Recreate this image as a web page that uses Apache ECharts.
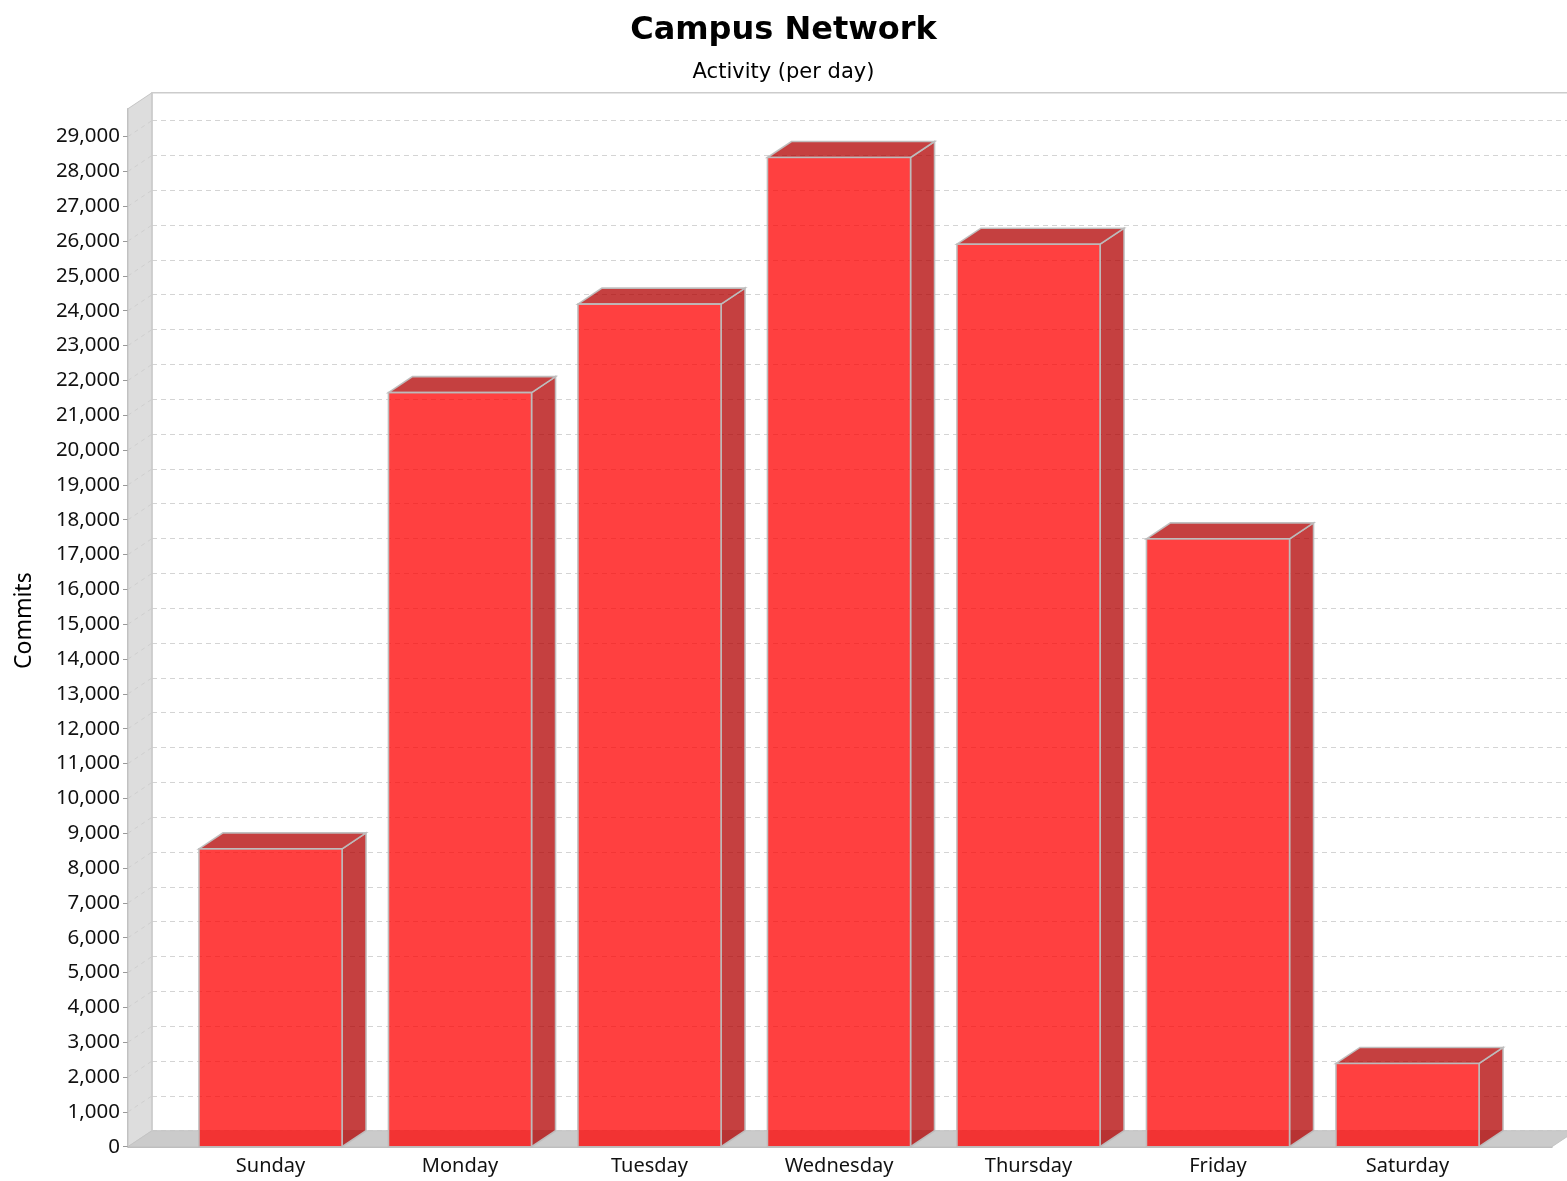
<!DOCTYPE html>
<html>
<head>
<meta charset="utf-8">
<title>Campus Network</title>
<script src="https://cdn.jsdelivr.net/npm/echarts@6/dist/echarts.min.js"></script>
<style>
  html, body { margin: 0; padding: 0; background: #ffffff; }
  #chart { width: 1567px; height: 1181px; }
</style>
</head>
<body>
<div id="chart"></div>
<script>
// Commits per weekday
const categories = ['Sunday', 'Monday', 'Tuesday', 'Wednesday', 'Thursday', 'Friday', 'Saturday'];
const commits = [8550, 21650, 24190, 28400, 25910, 17450, 2390];

// Value axis: range and labelled ticks
const yMax = 29800;
const yTicks = [0, 1000, 2000, 3000, 4000, 5000, 6000, 7000, 8000, 9000,
  10000, 11000, 12000, 13000, 14000, 15000, 16000, 17000, 18000, 19000,
  20000, 21000, 22000, 23000, 24000, 25000, 26000, 27000, 28000, 29000];

// Depth of the pseudo-3D box (pixels right / up)
const DX = 24, DY = 16;

// Plot frame (front plane)
const PLOT = { left: 128, right: 15, top: 108.7, bottom: 34.3 };
// Category band area, narrower than the frame
const BAND = { left: 175.75, width: 1326.5 };
const BAR_RATIO = 0.755;

const FRONT_FILL = 'rgba(255,0,0,0.75)';
const DARK_FILL = 'rgba(178,0,0,0.75)';
const EDGE = 'rgba(190,190,190,0.95)';

const fmt = v => v.toLocaleString('en-US');

const chart = echarts.init(document.getElementById('chart'), null, { renderer: 'canvas' });

// Walls and floor of the box, drawn from the front grid's rectangle
function renderWalls(params, api) {
  const cs = params.coordSys;
  const x0 = cs.x, y0 = cs.y, x1 = cs.x + cs.width, y1 = cs.y + cs.height;
  return {
    type: 'group',
    children: [
      { // left side wall
        type: 'polygon',
        shape: { points: [[x0, y0], [x0 + DX, y0 - DY], [x0 + DX, y1 - DY], [x0, y1]] },
        style: { fill: '#dddddd', stroke: '#c4c4c4', lineWidth: 1 }
      },
      { // floor
        type: 'polygon',
        shape: { points: [[x0, y1], [x0 + DX, y1 - DY], [x1 + DX, y1 - DY], [x1, y1]] },
        style: { fill: '#cbcbcb', stroke: '#c4c4c4', lineWidth: 1 }
      },
      { // back wall outline
        type: 'polyline',
        shape: { points: [[x0 + DX, y1 - DY], [x0 + DX, y0 - DY], [x1 + DX, y0 - DY]] },
        style: { fill: null, stroke: '#cccccc', lineWidth: 1.5 }
      }
    ]
  };
}

// Grid lines running across the side wall
function renderWallGrid(params, api) {
  const v = api.value(1);
  if (v === 0) return null;
  const p = api.coord([0, v]);
  return {
    type: 'line',
    shape: { x1: p[0], y1: p[1], x2: p[0] + DX, y2: p[1] - DY },
    style: { stroke: '#cfcfcf', lineWidth: 1, lineDash: [4, 4] }
  };
}

// 3D bars: front face plus top and right side
function renderBar(params, api) {
  const i = api.value(0);
  const v = api.value(1);
  const top = api.coord([i, v]);
  const base = api.coord([i, 0]);
  const w = api.size([1, 0])[0] * BAR_RATIO;
  const xa = top[0] - w / 2, xb = top[0] + w / 2;
  const yt = top[1], yb = base[1];
  return {
    type: 'group',
    children: [
      {
        type: 'polygon',
        shape: { points: [[xb, yt], [xb + DX, yt - DY], [xb + DX, yb - DY], [xb, yb]] },
        style: { fill: DARK_FILL, stroke: EDGE, lineWidth: 1.6 }
      },
      {
        type: 'polygon',
        shape: { points: [[xa, yt], [xa + DX, yt - DY], [xb + DX, yt - DY], [xb, yt]] },
        style: { fill: DARK_FILL, stroke: EDGE, lineWidth: 1.6 }
      },
      {
        type: 'rect',
        shape: { x: xa, y: yt, width: w, height: yb - yt },
        style: { fill: FRONT_FILL, stroke: EDGE, lineWidth: 1.6 }
      }
    ]
  };
}

const option = {
  backgroundColor: '#ffffff',
  animation: false,
  title: [
    {
      text: 'Campus Network',
      left: 'center',
      top: 10,
      textStyle: { fontFamily: 'DejaVu Sans', fontWeight: 'bold', fontSize: 32, color: '#000' }
    },
    {
      text: 'Activity (per day)',
      left: 'center',
      top: 57,
      textStyle: { fontFamily: 'DejaVu Sans', fontWeight: 'normal', fontSize: 21, color: '#000' }
    }
  ],
  grid: [
    // front plane: value axis and base line
    { left: PLOT.left, right: PLOT.right, top: PLOT.top, bottom: PLOT.bottom },
    // category bands for the bars
    { left: BAND.left, width: BAND.width, top: PLOT.top, bottom: PLOT.bottom },
    // back wall, carries the dashed grid lines
    { left: PLOT.left + DX, right: 0, top: PLOT.top - DY, bottom: PLOT.bottom + DY }
  ],
  xAxis: [
    {
      gridIndex: 0, type: 'value', min: 0, max: 1,
      axisLine: { show: true, lineStyle: { color: '#a8a8a8', width: 1.5 } },
      axisTick: { show: false }, axisLabel: { show: false }, splitLine: { show: false }
    },
    {
      gridIndex: 1, type: 'category', data: categories,
      axisLine: { show: false }, axisTick: { show: false },
      axisLabel: { margin: 10, fontFamily: 'Noto Sans', fontSize: 20, color: '#111' },
      splitLine: { show: false }
    },
    {
      gridIndex: 2, type: 'value', min: 0, max: 1, show: false
    }
  ],
  yAxis: [
    {
      gridIndex: 0, type: 'value', min: 0, max: yMax, interval: 1000,
      name: 'Commits', nameLocation: 'middle', nameGap: 92, nameRotate: 90,
      nameTextStyle: { fontFamily: 'Noto Sans', fontSize: 23, color: '#000', padding: [0, 0, 0, 14] },
      axisLine: { show: true, lineStyle: { color: '#a8a8a8', width: 1.5 } },
      axisTick: { show: true, length: 5, customValues: yTicks, lineStyle: { color: '#999' } },
      axisLabel: {
        margin: 8, customValues: yTicks, formatter: v => fmt(v),
        fontFamily: 'Noto Sans', fontSize: 20.5, color: '#111'
      },
      splitLine: { show: false }
    },
    {
      gridIndex: 1, type: 'value', min: 0, max: yMax, show: false
    },
    {
      gridIndex: 2, type: 'value', min: 0, max: yMax, interval: 1000,
      axisLine: { show: false }, axisTick: { show: false }, axisLabel: { show: false },
      splitLine: { show: true, lineStyle: { color: '#d4d4d4', width: 1, type: [5, 4] } }
    }
  ],
  series: [
    {
      type: 'custom', name: 'frame', xAxisIndex: 0, yAxisIndex: 0,
      data: [[0, 0]], renderItem: renderWalls, silent: true, z: 1
    },
    {
      type: 'custom', name: 'wall grid', xAxisIndex: 0, yAxisIndex: 0,
      data: yTicks.map(v => [0, v]), renderItem: renderWallGrid, silent: true, z: 1
    },
    {
      type: 'custom', name: 'Commits', xAxisIndex: 1, yAxisIndex: 1,
      data: commits.map((v, i) => [i, v]), renderItem: renderBar, z: 3
    }
  ]
};

chart.setOption(option);
</script>
</body>
</html>
